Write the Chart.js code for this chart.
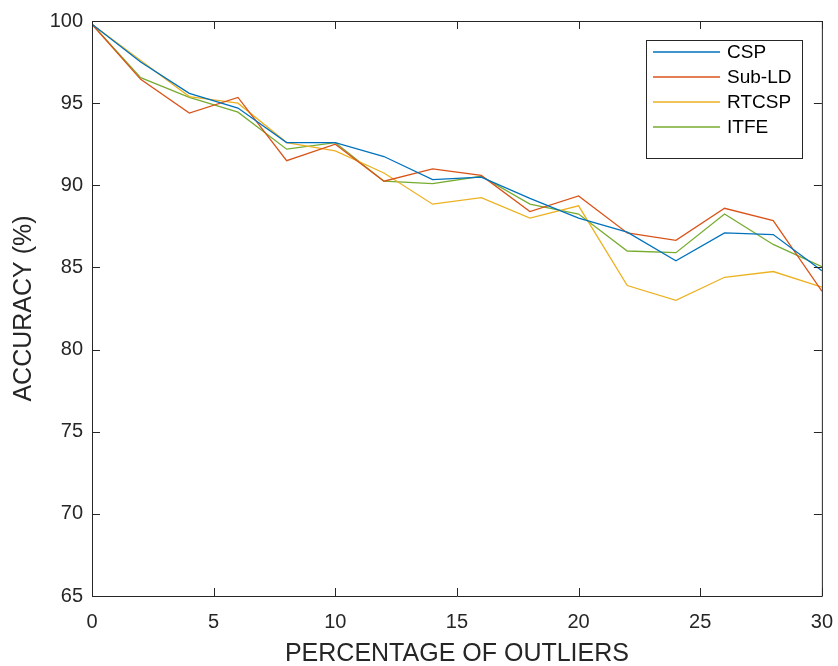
<!DOCTYPE html>
<html>
<head>
<meta charset="utf-8">
<script src="https://cdn.jsdelivr.net/npm/chart.js@4.4.0/dist/chart.umd.min.js"></script>
<style>
  html, body { margin: 0; padding: 0; background: #fff; }
  #wrap { width: 838px; height: 666px; }
</style>
</head>
<body>
<div id="wrap"><canvas id="chart" width="838" height="666"></canvas></div>
<script>
// Percentage of outliers (x) and accuracy values per method
const outlierPct = [0, 2, 4, 6, 8, 10, 12, 14, 16, 18, 20, 22, 24, 26, 28, 30];
const cspAcc   = [99.8, 97.5, 95.6, 94.7, 92.6, 92.6, 91.75, 90.35, 90.5, 89.2, 88.0, 87.15, 85.4, 87.1, 87.0, 84.8];
const subldAcc = [99.8, 96.45, 94.4, 95.35, 91.5, 92.5, 90.25, 91.0, 90.6, 88.4, 89.35, 87.1, 86.65, 88.6, 87.85, 83.55];
const rtcspAcc = [99.8, 97.6, 95.4, 95.0, 92.6, 92.1, 90.75, 88.85, 89.25, 88.0, 88.75, 83.9, 83.0, 84.4, 84.75, 83.8];
const itfeAcc  = [99.8, 96.55, 95.35, 94.45, 92.2, 92.6, 90.25, 90.1, 90.55, 88.85, 88.25, 86.0, 85.9, 88.25, 86.4, 85.05];

const seriesNames = ['CSP', 'Sub-LD', 'RTCSP', 'ITFE'];
const seriesColors = ['#0072BD', '#D95319', '#EDB120', '#77AC30'];
const seriesValues = [cspAcc, subldAcc, rtcspAcc, itfeAcc];

const axisColor = '#262626';
const fontFamily = "'Liberation Sans', Arial, Helvetica, sans-serif";

const toPoints = vals => vals.map((v, i) => ({ x: outlierPct[i], y: v }));

// box around the axes with inward ticks on all four sides (MATLAB style)
const boxPlugin = {
    id: 'boxTicks',
    afterDraw(chart) {
        const { ctx, chartArea: a, scales } = chart;
        const len = 8;
        ctx.save();
        ctx.strokeStyle = axisColor;
        ctx.lineWidth = 1;
        ctx.beginPath();
        ctx.rect(a.left + 0.5, a.top + 0.5, a.right - a.left, a.bottom - a.top);
        scales.x.ticks.forEach(t => {
            const px = Math.round(scales.x.getPixelForValue(t.value)) + 0.5;
            ctx.moveTo(px, a.bottom); ctx.lineTo(px, a.bottom - len);
            ctx.moveTo(px, a.top); ctx.lineTo(px, a.top + len);
        });
        scales.y.ticks.forEach(t => {
            const py = Math.round(scales.y.getPixelForValue(t.value)) + 0.5;
            ctx.moveTo(a.left, py); ctx.lineTo(a.left + len, py);
            ctx.moveTo(a.right, py); ctx.lineTo(a.right - len, py);
        });
        ctx.stroke();
        ctx.restore();
    }
};

// legend box in the upper right corner
const legendPlugin = {
    id: 'boxLegend',
    afterDraw(chart) {
        const { ctx } = chart;
        const x0 = 646, y0 = 40, w = 156, h = 118;
        const rowH = 25;
        ctx.save();
        ctx.fillStyle = '#fff';
        ctx.fillRect(x0, y0, w, h);
        ctx.strokeStyle = axisColor;
        ctx.lineWidth = 1;
        ctx.strokeRect(x0 + 0.5, y0 + 0.5, w, h);
        ctx.font = '19px ' + fontFamily;
        ctx.textBaseline = 'middle';
        ctx.textAlign = 'left';
        chart.data.datasets.forEach((ds, i) => {
            const y = y0 + 12 + i * rowH;
            ctx.strokeStyle = ds.borderColor;
            ctx.lineWidth = 1.3;
            ctx.beginPath();
            ctx.moveTo(x0 + 7, y);
            ctx.lineTo(x0 + 74, y);
            ctx.stroke();
            ctx.fillStyle = '#000';
            ctx.fillText(ds.label, x0 + 81, y + 1);
        });
        ctx.restore();
    }
};

new Chart(document.getElementById('chart'), {
    type: 'line',
    data: {
        datasets: seriesNames.map((name, i) => ({
            label: name,
            data: toPoints(seriesValues[i]),
            borderColor: seriesColors[i],
            backgroundColor: seriesColors[i],
            borderWidth: 1.3,
            pointRadius: 0,
            tension: 0,
            fill: false
        }))
    },
    options: {
        responsive: false,
        animation: false,
        devicePixelRatio: 1,
        layout: { padding: { top: 18, right: 15, left: 0, bottom: 0 } },
        plugins: {
            legend: { display: false },
            tooltip: { enabled: false }
        },
        scales: {
            x: {
                type: 'linear',
                min: 0,
                max: 30,
                afterFit: s => { s.height = 70; },
                border: { display: false },
                // invisible ticks just to push the labels down
                grid: { display: true, drawOnChartArea: false, drawTicks: true, tickLength: 9, color: 'rgba(0,0,0,0)' },
                ticks: {
                    stepSize: 5,
                    padding: 5,
                    color: axisColor,
                    font: { family: fontFamily, size: 20 },
                    maxRotation: 0
                },
                title: {
                    display: true,
                    text: 'PERCENTAGE OF OUTLIERS',
                    color: axisColor,
                    font: { family: fontFamily, size: 25, lineHeight: 1 },
                    padding: { top: 0, bottom: -1 }
                }
            },
            y: {
                min: 65,
                max: 100,
                afterFit: s => { s.width = 92; },
                border: { display: false },
                grid: { display: false, drawTicks: false },
                ticks: {
                    stepSize: 5,
                    padding: 9,
                    color: axisColor,
                    font: { family: fontFamily, size: 20 }
                },
                title: {
                    display: true,
                    text: 'ACCURACY (%)',
                    color: axisColor,
                    font: { family: fontFamily, size: 25, lineHeight: 1 },
                    padding: { top: 12, bottom: 0 }
                }
            }
        }
    },
    plugins: [boxPlugin, legendPlugin]
});
</script>
</body>
</html>
